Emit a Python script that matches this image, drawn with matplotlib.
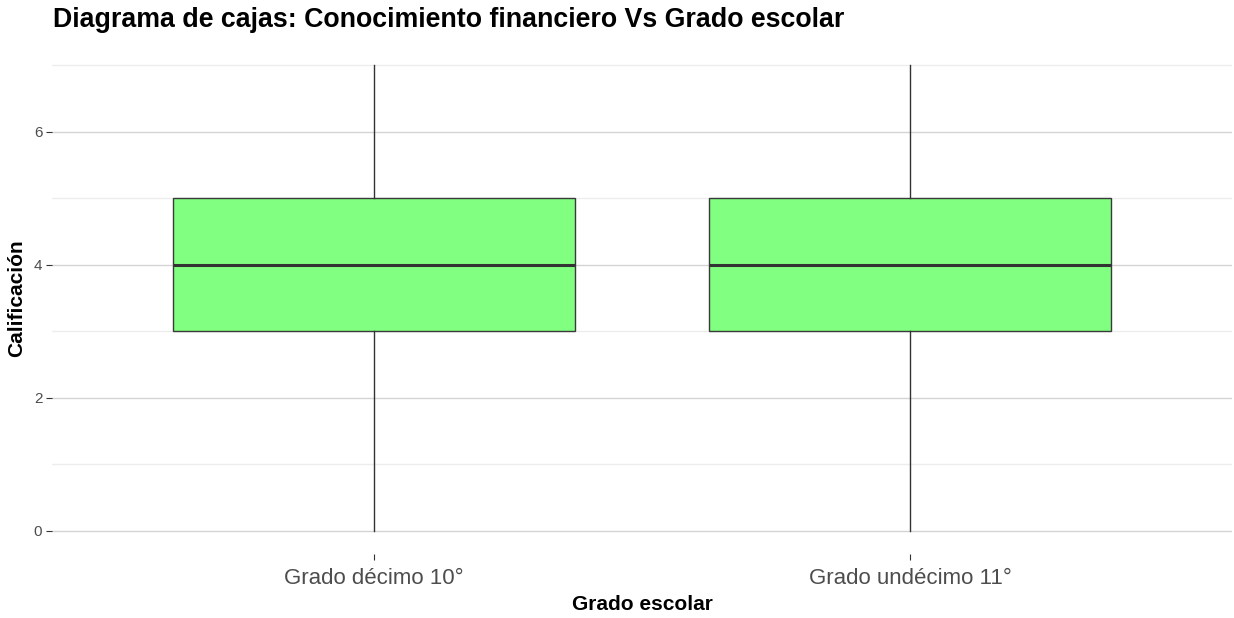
import matplotlib
matplotlib.use("Agg")
import matplotlib.pyplot as plt

categories = ["Grado décimo 10°", "Grado undécimo 11°"]
whisker_low = [0, 0]
q1 = [3, 3]
median = [4, 4]
q3 = [5, 5]
whisker_high = [7, 7]
yticks = [0, 2, 4, 6]
minor_yticks = [1, 3, 5, 7]

plt.rcParams['font.family'] = ['Liberation Sans', 'DejaVu Sans']

W, H = 1234, 618
fig = plt.figure(figsize=(W / 100, H / 100), dpi=100)
ax = fig.add_axes([52 / W, 64 / H, 1180 / W, 512 / H])

stats = []
for i, c in enumerate(categories):
    stats.append(dict(label=c, whislo=whisker_low[i], q1=q1[i], med=median[i],
                      q3=q3[i], whishi=whisker_high[i], fliers=[]))
positions = list(range(1, len(categories) + 1))
ax.bxp(stats, positions=positions, widths=0.75, patch_artist=True, showcaps=False,
       boxprops=dict(facecolor="#80FF80", edgecolor="#3a3a3a", linewidth=1.0),
       medianprops=dict(color="#333333", linewidth=2.2),
       whiskerprops=dict(color="#333333", linewidth=1.0), zorder=3)

ax.set_xlim(0.4, 2.6)
ax.set_ylim(-0.35, 7.35)
ax.set_yticks(yticks)
ax.set_yticks(minor_yticks, minor=True)
ax.set_xticks(positions)
ax.set_xticklabels(categories)
ax.grid(True, which='major', axis='y', color='#D4D4D4', linewidth=1.0, zorder=0)
ax.grid(True, which='minor', axis='y', color='#EDEDED', linewidth=1.0, zorder=0)
ax.set_axisbelow(True)
for s in ax.spines.values():
    s.set_visible(False)
ax.tick_params(axis='y', which='major', length=4, color='#333333', labelsize=11, labelcolor='#4D4D4D', pad=3)
ax.tick_params(axis='y', which='minor', length=0)
ax.tick_params(axis='x', which='major', length=4, color='#333333', labelsize=16, labelcolor='#4D4D4D', pad=6)

ax.set_ylabel("Calificación", fontsize=15, fontweight='bold')
ax.yaxis.set_label_coords((16.5 - 52) / 1180, 0.5)
ax.yaxis.label.set_va('center')
ax.set_xlabel("Grado escolar", fontsize=15, fontweight='bold')
ax.xaxis.set_label_coords(0.5, -(604 - 554) / 512)
ax.xaxis.label.set_va('center')

fig.text(53 / W, 1 - 20 / H, "Diagrama de cajas: Conocimiento financiero Vs Grado escolar",
         fontsize=19.3, fontweight='bold', ha='left', va='center')

fig.savefig("out.png", dpi=100)
